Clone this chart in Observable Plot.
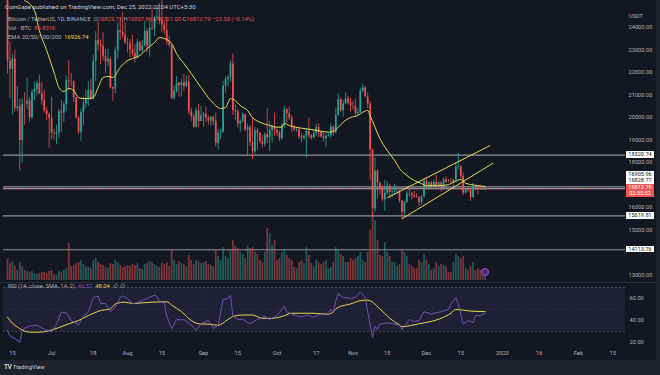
<!DOCTYPE html>
<html><head><meta charset="utf-8">
<script src="https://cdn.jsdelivr.net/npm/d3@7"></script>
<script src="https://cdn.jsdelivr.net/npm/@observablehq/plot@0.6"></script>
<style>
html,body{margin:0;padding:0;background:#1e222d;}
#wrap{position:relative;width:660px;height:375px;overflow:hidden;font-family:Roboto,"Noto Sans",sans-serif;}
#pane{position:absolute;left:0;top:0;width:656px;height:360px;background:#131722;}
.layer{position:absolute;left:0;}
.txt{position:absolute;white-space:nowrap;font-size:5.8px;line-height:7px;color:#b2b5be;}
.box{position:absolute;left:626px;width:28px;height:6.5px;font-size:5.6px;line-height:6.5px;text-align:center;}
</style></head>
<body><div id="wrap"><div id="pane"></div></div>
<script>
// ---------- data (Bitcoin / TetherUS, 1D, from 2022-06-13) ----------
const firstDay = "2022-06-13";
const open = [26574,22485,22136,22583,20401,20468,18970,20574,20573,20724,19988,21110,21237,21492,21038,20742,20281,20124,
19942,19280,19252,19315,20236,20175,20564,21624,21595,21591,20862,19963,19329,20213,20589,20830,21196,20790,22485,23396,23223,23152,22684,22451,22579,21311,21254,22953,23845,23774,23644,
23297,23269,22988,22819,22625,23312,22954,23175,23810,23149,23954,23935,24403,24442,24305,24095,23855,23336,23191,20834,21140,21517,21400,21529,21368,21560,20241,20037,19555,20285,19811,
20050,20127,19952,19832,19986,19813,18838,19290,19330,21382,21680,21770,22370,20296,20241,19701,19803,20113,19416,19537,18875,18461,19401,19289,18920,18803,19222,19079,19413,19592,
19422,19310,19057,19630,20337,20159,19961,19530,19417,19439,19131,19061,19155,19376,19176,19069,19262,19549,19328,19124,19042,19164,19204,19571,19330,20080,20771,20295,20592,20809,20627,
20491,20483,20151,20207,21148,21300,20905,20591,18547,15922,17601,17071,16813,16330,16619,16900,16663,16692,16700,16712,16280,15781,16227,16603,16599,16522,16458,16428,16212,16442,
17163,16978,17092,16885,17105,16967,17088,16836,17224,17128,17127,17085,17209,17775,17803,17357,16633,16777,16739,16438,16896,16824,16821,16778,16826];
const high = [26895,23362,22800,22973,21365,20792,20815,21090,21723,20880,21233,21558,21614,21869,21540,21200,20432,20179,
20876,19470,19647,20354,20750,20675,21838,22527,21950,21607,20882,20048,20366,20880,21200,21588,21684,22777,23800,24276,23442,23757,22999,23014,22666,21348,23112,24199,24442,24668,24194,
23509,23459,23647,23223,23466,23354,23400,24245,23925,24226,24918,24456,24888,25047,25211,24247,24447,23600,23208,21382,21800,21522,21684,21900,21819,21866,20402,20145,20433,20579,20490,
20205,20445,20055,20029,20060,20180,19464,19458,21600,21792,21860,22488,22800,20544,20330,19888,20189,20117,19689,19634,19956,19550,19500,19316,19180,19316,20385,19790,19645,20185,
19484,19395,19719,20475,20365,20456,20057,19627,19558,19525,19268,19225,19513,19951,19227,19420,19676,19706,19360,19346,19250,19257,19695,19601,20415,21020,20872,20750,21085,20931,20845,
20700,20800,20393,21302,21480,21365,21069,20700,18587,18199,17655,17110,16950,17190,17134,17015,16750,17011,16820,16746,16300,16253,16706,16812,16666,16700,16600,16483,16526,17249,
17320,17105,17156,17202,17425,17107,17142,17299,17360,17227,17270,17241,18000,18387,17846,17531,16796,16859,16815,17061,16925,16868,16955,16869,16858];
const low = [21925,20846,20111,20232,20246,17622,17960,19637,20348,19771,19891,20740,20906,21006,20511,20183,19851,18626,
19000,18975,18782,19055,19305,19761,20251,21189,21346,20652,19900,19238,18910,19616,20380,20484,20756,20763,21581,22906,22341,22500,21950,22257,21250,20706,21042,22582,23414,23502,23227,
22853,22654,22681,22400,22586,22909,22844,23154,22865,22664,23852,23568,24296,24107,23774,23671,23180,23086,20783,20761,21066,20890,20890,21145,21310,20113,19800,19520,19540,19540,19800,
19560,19753,19655,19587,19635,18685,18540,19011,19298,21070,21350,21556,20071,19868,19500,19320,19735,19354,18232,18711,18125,18356,18531,18805,18629,18680,18816,18471,18843,19155,
19160,18920,18960,19490,19730,19853,19320,19363,19316,19020,18860,18966,18190,19070,18975,19063,19160,19097,19073,18900,18650,19108,19070,19157,19242,20051,20202,20000,20554,20550,20237,
20330,20048,20031,20180,21080,20880,20384,17166,15588,15754,16361,16542,16229,15815,16527,16378,16420,16546,16560,16180,15476,15630,16160,16458,16330,16400,16400,16002,16100,16428,
16855,16787,16855,16878,16868,16906,16678,16733,17060,17092,17071,16871,17080,17660,17275,16527,16584,16660,16256,16398,16723,16559,16775,16755,16721];
const close = [22487,22136,22583,20401,20468,18970,20574,20573,20724,19987,21110,21237,21492,21038,20742,20281,20123,19942,
19280,19252,19315,20236,20175,20564,21624,21595,21591,20862,19963,19329,20213,20589,20830,21196,20790,22485,23396,23223,23152,22684,22451,22579,21311,21254,22953,23845,23774,23644,23297,
23269,22988,22819,22625,23312,22954,23175,23810,23149,23954,23935,24403,24442,24305,24095,23855,23336,23191,20834,21140,21517,21400,21529,21368,21560,20241,20037,19555,20285,19811,20050,
20127,19952,19832,19986,19813,18838,19290,19330,21382,21680,21770,22370,20296,20241,19701,19803,20113,19416,19537,18875,18461,19401,19289,18920,18803,19222,19079,19413,19592,19422,
19310,19057,19630,20337,20159,19961,19530,19417,19439,19131,19061,19155,19376,19176,19069,19262,19549,19328,19124,19042,19164,19204,19571,19330,20080,20771,20295,20592,20809,20627,20491,
20483,20151,20207,21148,21300,20905,20591,18547,15922,17601,17071,16813,16330,16619,16900,16663,16692,16700,16712,16280,15781,16227,16603,16599,16522,16458,16428,16212,16442,17163,
16978,17092,16885,17105,16967,17088,16836,17224,17128,17127,17085,17209,17775,17803,17357,16633,16777,16739,16438,16896,16824,16821,16778,16837,16813];
// volume, thousand BTC
const volume = [323,250,279,206,147,265,
206,147,132,118,132,103,88,103,118,118,103,132,
147,88,74,132,118,147,176,544,
206,220,250,265,294,235,206,191,176,
294,323,265,235,220,191,176,250,235,294,265,220,191,206,
220,206,235,220,250,176,162,235,250,279,265,235,206,191,250,235,265,206,441,
294,235,279,250,235,206,368,294,235,294,279,250,
265,279,235,220,206,456,353,294,485,353,323,441,588,
500,470,412,382,323,500,470,485,412,382,294,265,412,764,691,515,588,
294,323,412,441,368,323,294,191,176,265,294,250,485,
368,250,206,294,265,235,265,294,176,191,265,485,441,382,353,265,265,323,
294,323,353,412,294,265,412,735,1000,882,
588,368,353,559,412,353,265,265,206,235,
441,412,353,235,206,176,176,294,265,382,
294,235,147,176,265,206,235,220,206,118,118,265,382,353,323,353,
176,147,206,265,147,176,147,88,86];

// EMA 20
const emaDates = ["2022-06-20","2022-06-24","2022-06-26","2022-06-29","2022-07-02","2022-07-04","2022-07-06","2022-07-08","2022-07-10","2022-07-12","2022-07-14","2022-07-16","2022-07-18","2022-07-20","2022-07-22","2022-07-24","2022-07-26","2022-07-29","2022-08-01","2022-08-03","2022-08-06","2022-08-09","2022-08-12","2022-08-14","2022-08-16","2022-08-19","2022-08-21","2022-08-24","2022-08-27","2022-08-31","2022-09-04","2022-09-08","2022-09-10","2022-09-12","2022-09-14","2022-09-16","2022-09-19","2022-09-21","2022-09-24","2022-09-28","2022-10-01","2022-10-03","2022-10-04","2022-10-06","2022-10-11","2022-10-15","2022-10-19","2022-10-22","2022-10-24","2022-10-26","2022-10-28","2022-10-31","2022-11-03","2022-11-05","2022-11-07","2022-11-08","2022-11-10","2022-11-12","2022-11-15","2022-11-18","2022-11-20","2022-11-23","2022-11-26","2022-11-29","2022-12-01","2022-12-06","2022-12-10","2022-12-12","2022-12-15","2022-12-17","2022-12-19","2022-12-22","2022-12-25"];
const emaValues = [25186,24742,23853,22965,21990,21320,21140,21275,21190,20877,20830,20830,20877,21320,21765,21810,21765,22210,22520,22610,22743,23054,23320,23542,23498,23276,22830,22387,21943,21320,20740,20390,20430,20830,20740,20520,20300,19988,19780,19633,19558,19558,19722,19633,19513,19455,19380,19335,19366,19558,19780,19988,20077,20223,20300,20077,19558,19055,18522,18078,17722,17411,17190,17050,16960,16960,17005,17115,17234,17070,17012,16960,16926.74];

// RSI (14) and its SMA (14)
const rsiDates = ["2022-06-13","2022-06-14","2022-06-16","2022-06-18","2022-06-19","2022-06-20","2022-06-22","2022-06-25","2022-06-28","2022-07-01","2022-07-03","2022-07-05","2022-07-07","2022-07-09","2022-07-12","2022-07-14","2022-07-16","2022-07-18","2022-07-20","2022-07-21","2022-07-23","2022-07-25","2022-07-27","2022-07-29","2022-07-30","2022-08-01","2022-08-03","2022-08-06","2022-08-09","2022-08-12","2022-08-13","2022-08-14","2022-08-16","2022-08-17","2022-08-19","2022-08-21","2022-08-24","2022-08-27","2022-08-29","2022-08-31","2022-09-03","2022-09-05","2022-09-07","2022-09-09","2022-09-11","2022-09-12","2022-09-13","2022-09-15","2022-09-17","2022-09-20","2022-09-23","2022-09-26","2022-09-28","2022-10-01","2022-10-04","2022-10-05","2022-10-08","2022-10-11","2022-10-13","2022-10-16","2022-10-19","2022-10-21","2022-10-23","2022-10-24","2022-10-25","2022-10-26","2022-10-28","2022-10-31","2022-11-02","2022-11-04","2022-11-06","2022-11-07","2022-11-09","2022-11-10","2022-11-11","2022-11-12","2022-11-15","2022-11-18","2022-11-20","2022-11-21","2022-11-24","2022-11-26","2022-11-28","2022-11-30","2022-12-03","2022-12-07","2022-12-10","2022-12-11","2022-12-13","2022-12-14","2022-12-16","2022-12-18","2022-12-20","2022-12-21","2022-12-23","2022-12-25"];
const rsiValues = [31,26,23.6,20.3,31,33,35,35.8,32,30,36.4,47.6,47,40,36,44,48,61,62,55.4,55.4,48,52,61,62.4,60,55,57,60,63,61.8,57,56,44,32.7,40.7,40.7,36,31,37,40,32.7,36,59,60,63,44,41,41,37,41,43.7,41,44.6,53,48,45,43,45,43,46,45,50,47,58,64.5,61,60,61,66,61,48,24.8,35,32,36.7,38,36.7,35.7,32,41,39,40,48,46,48,50,55,61,55,36.7,40,38,44.6,44.6,46.57];
const smaDates = ["2022-06-13","2022-06-14","2022-06-18","2022-06-22","2022-06-26","2022-06-30","2022-07-04","2022-07-08","2022-07-12","2022-07-16","2022-07-21","2022-07-25","2022-07-27","2022-07-31","2022-08-03","2022-08-07","2022-08-11","2022-08-17","2022-08-19","2022-08-23","2022-08-27","2022-08-30","2022-09-04","2022-09-07","2022-09-11","2022-09-13","2022-09-17","2022-09-21","2022-09-25","2022-09-29","2022-10-03","2022-10-07","2022-10-11","2022-10-15","2022-10-20","2022-10-22","2022-10-26","2022-10-31","2022-11-04","2022-11-07","2022-11-12","2022-11-16","2022-11-20","2022-11-21","2022-11-28","2022-12-07","2022-12-11","2022-12-13","2022-12-19","2022-12-25"];
const smaValues = [43,40,32.7,29.4,29.4,30.7,33.6,37,40,44.5,49,50.6,55,56.7,55.4,56,56.7,57,54,48,40,37,36.5,35.7,41,43.6,45,45,42,42,43.6,46.6,46.6,46.6,46,45.7,52,55,58,58.5,50.6,42,36,34.5,37,42,46.6,50,48.6,48.04];
const rsiBands = [70, 50, 30];

// drawn levels and channel
const levels = [18320.74, 16905.96, 16828.77, 15619.81, 14113.76];
const lastPrice = 16812.79;
const countdown = "02:35:52";
const channelStartDates = ["2022-11-15","2022-11-21"];
const channelStartPrices = [16421, 15488];
const channelEndDates = ["2022-12-27","2022-12-28T05:00"];
const channelEndPrices = [18745, 17958];

// axes
const tickDates = ["2022-06-15","2022-07-01","2022-07-18","2022-08-01","2022-08-15","2022-09-01","2022-09-15","2022-10-01","2022-10-17","2022-11-01","2022-11-15","2022-12-01","2022-12-15","2023-01-01","2023-01-16","2023-02-01","2023-02-15"];
const tickLabels = ["15","Jul","18","Aug","15","Sep","15","Oct","17","Nov","15","Dec","15","2023","16","Feb","15"];
const priceTicks = [13000,15000,16000,18000,19000,20000,21000,22000,23000,24000];
const priceGrid = [13000,14000,15000,16000,17000,18000,19000,20000,21000,22000,23000,24000];
const rsiTicks = [20, 40, 60];
const priceView = [12658, 25186];
const rsiView = [17.3, 73.6];
const volumeView = [0, 1000];
const viewStart = "2022-06-11T08:48", viewEnd = "2023-02-20T05:45";

// ---------- drawing ----------
const UP = "#26a69a", DOWN = "#ef5350", YEL = "#e9dc4c", PURP = "#7e57c2", GRID = "#171b26";
const D = s => new Date(s.length > 10 ? s + ":00Z" : s + "T00:00:00Z");
const t0 = D(firstDay);
const dates = open.map((_, i) => new Date(+t0 + i * 864e5));
const idx = d3.range(open.length);
const col = i => close[i] >= open[i] ? UP : DOWN;
const vcol = i => close[i] >= open[i] ? "rgba(38,166,154,0.5)" : "rgba(239,83,80,0.5)";
const xDom = [D(viewStart), D(viewEnd)];
const ticks = tickDates.map(D);
const labelOf = new Map(ticks.map((d, i) => [+d, tickLabels[i]]));
const font = "Roboto, 'Noto Sans', sans-serif";
const baseStyle = {background: "transparent", color: "#b2b5be", fontSize: "5.7px", fontFamily: font, overflow: "visible"};
const wrap = document.getElementById("wrap");
function place(el, top) { const d = document.createElement("div"); d.className = "layer"; d.style.top = top + "px"; d.appendChild(el); wrap.appendChild(d); return el; }

const pricePlot = Plot.plot({
  width: 660, height: 282, marginLeft: 3, marginRight: 35, marginTop: 0, marginBottom: 0,
  style: baseStyle,
  x: {type: "utc", domain: xDom, axis: null},
  y: {domain: priceView, axis: "right", ticks: priceTicks, tickFormat: d => d.toFixed(2), tickSize: 0, tickPadding: 3, label: null},
  marks: [
    Plot.ruleX(ticks, {stroke: GRID, strokeWidth: 1}),
    Plot.ruleY(priceGrid, {stroke: GRID, strokeWidth: 1}),
    Plot.ruleY(levels, {stroke: "#9ea1aa", strokeWidth: 1.2, strokeOpacity: 0.9}),
    Plot.ruleY([lastPrice], {stroke: DOWN, strokeWidth: 0.8, strokeDasharray: "1,1.5"}),
    Plot.ruleX(idx, {x: i => dates[i], y1: i => low[i], y2: i => high[i], stroke: col, strokeWidth: 0.8, clip: true}),
    Plot.ruleX(idx, {x: i => dates[i], y1: i => open[i], y2: i => close[i], stroke: col, strokeWidth: 1.7, clip: true}),
    Plot.line(emaDates, {x: (d) => D(d), y: (d, i) => emaValues[i], stroke: YEL, strokeWidth: 1, curve: "monotone-x", clip: true}),
    Plot.link(channelStartDates, {x1: d => D(d), y1: (d, i) => channelStartPrices[i], x2: (d, i) => D(channelEndDates[i]), y2: (d, i) => channelEndPrices[i], stroke: YEL, strokeWidth: 1})
  ]
});
place(pricePlot, 0);

const volPlot = Plot.plot({
  width: 660, height: 68, marginLeft: 3, marginRight: 35, marginTop: 0, marginBottom: 0,
  style: baseStyle,
  x: {type: "utc", domain: xDom, axis: null},
  y: {domain: volumeView, axis: null},
  marks: [
    Plot.ruleX(idx, {x: i => dates[i], y1: 0, y2: i => volume[i], stroke: vcol, strokeWidth: 1.7})
  ]
});
place(volPlot, 212);

const rsiPlot = Plot.plot({
  width: 660, height: 77, marginLeft: 3, marginRight: 35, marginTop: 0, marginBottom: 15,
  style: baseStyle,
  x: {type: "utc", domain: xDom, ticks: ticks, tickFormat: d => labelOf.get(+d), tickSize: 0, tickPadding: 5, label: null},
  y: {domain: rsiView, axis: "right", ticks: rsiTicks, tickFormat: d => d.toFixed(2), tickSize: 0, tickPadding: 4, label: null},
  marks: [
    Plot.ruleX(ticks, {stroke: GRID, strokeWidth: 1}),
    Plot.rectY([rsiBands], {x1: xDom[0], x2: xDom[1], y1: b => b[0], y2: b => b[2], fill: "rgba(126,87,194,0.12)"}),
    Plot.ruleY([rsiBands[0], rsiBands[2]], {stroke: "#787b86", strokeOpacity: 0.7, strokeWidth: 0.7, strokeDasharray: "2,2"}),
    Plot.ruleY([rsiBands[1]], {stroke: "#787b86", strokeOpacity: 0.3, strokeWidth: 0.7, strokeDasharray: "1,2"}),
    Plot.line(smaDates, {x: d => D(d), y: (d, i) => smaValues[i], stroke: YEL, strokeWidth: 1, curve: "monotone-x"}),
    Plot.line(rsiDates, {x: d => D(d), y: (d, i) => rsiValues[i], stroke: PURP, strokeWidth: 0.9})
  ]
});
place(rsiPlot, 283);

// separators
function hline(top, color) { const d = document.createElement("div"); d.style.cssText = `position:absolute;left:0;top:${top}px;width:656px;height:1px;background:${color}`; wrap.appendChild(d); }
hline(282, "#2a2e39");

// price scale labels
const ys = pricePlot.scale("y");
function box(y, text, bg, fg) {
  const d = document.createElement("div"); d.className = "box";
  d.style.top = (y - 3.25) + "px"; d.style.background = bg; d.style.color = fg; d.textContent = text; wrap.appendChild(d);
}
const lastY = ys.apply(lastPrice);
box(lastY - 1.3, lastPrice.toFixed(2), DOWN, "#fff");
box(lastY + 5.2, countdown, DOWN, "#fff");
let ceiling = lastY - 1.3 - 3.25;
levels.filter(v => v > lastPrice).sort((a, b) => a - b).forEach(v => {
  let y = ys.apply(v);
  if (y + 3.25 > ceiling) y = ceiling - 3.25;
  box(y, v.toFixed(2), "#ffffff", "#131722");
  ceiling = y - 3.25;
});
levels.filter(v => v < lastPrice).forEach(v => box(ys.apply(v), v.toFixed(2), "#ffffff", "#131722"));

// texts
function txt(left, top, html, extra) { const d = document.createElement("div"); d.className = "txt"; d.style.left = left + "px"; d.style.top = top + "px"; d.innerHTML = html; if (extra) d.style.cssText += extra; wrap.appendChild(d); }
const R = s => `<span style="color:${DOWN}">${s}</span>`;
txt(5, 2.5, "CoinGape published on TradingView.com, Dec 25, 2022 22:04 UTC+5:30", "color:#d1d4dc;font-size:6px;");
txt(8, 15.5, `Bitcoin / TetherUS, 1D, BINANCE &nbsp;O${R("16825.71")} H${R("16857.86")} L${R("16721.00")} C${R("16812.79")} ${R("−23.33 (−0.14%)")}`);
txt(8, 24.5, `Vol · BTC &nbsp;${R("85.831K")}`);
txt(8, 33.5, `EMA 20/50/100/200 &nbsp;<span style="color:${YEL}">16926.74</span>`);
txt(8, 282.5, `RSI (14, close, SMA, 14, 2) &nbsp;<span style="color:${PURP}">46.57</span> &nbsp;<span style="color:${YEL}">48.04</span> &nbsp;∅ &nbsp;∅`);
txt(629, 12.5, "USDT", "font-size:5.6px;");
// event marker
const ev = document.createElement("div");
ev.style.cssText = `position:absolute;left:${pricePlot.scale("x").apply(dates[dates.length-1]) - 3.5}px;top:268px;width:6px;height:6px;border-radius:50%;background:#4a2c6e;border:1px solid #9c59d1;`;
wrap.appendChild(ev);
// footer
txt(4, 363.5, `<b style="color:#d1d4dc;font-size:6.5px;letter-spacing:-0.5px">TV</b> TradingView`, "color:#d1d4dc;");
</script>
</body></html>
